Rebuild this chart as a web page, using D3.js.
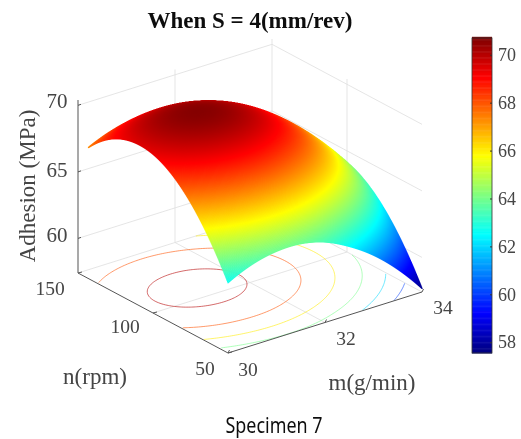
<!DOCTYPE html>
<html>
<head>
<meta charset="utf-8">
<script src="https://cdn.jsdelivr.net/npm/d3@7"></script>
<style>
body { margin: 0; background: #fff; }
svg, canvas { position: absolute; left: 0; top: 0; }
text { font-family: "Liberation Serif", serif; fill: #444; }
</style>
</head>
<body>
<script>
// values
var mValues = [30, 30.5, 31, 31.5, 32, 32.5, 33, 33.5, 34];
var nValues = [50, 65.5, 81, 96.5, 112, 127.5, 143, 158.5];
// adhesion per n row, left to right along m
var adhesion50  = [62.68, 63.50, 63.90, 63.90, 63.45, 62.55, 61.32, 59.69, 57.67];
var adhesion65  = [65.78, 66.54, 66.90, 66.87, 66.44, 65.61, 64.37, 62.73, 60.70];
var adhesion81  = [67.95, 68.70, 69.05, 69.02, 68.57, 67.74, 66.49, 64.84, 62.81];
var adhesion96  = [69.19, 69.93, 70.28, 70.23, 69.78, 68.94, 67.68, 66.03, 63.98];
var adhesion112 = [69.47, 70.21, 70.55, 70.50, 70.04, 69.18, 67.92, 66.26, 64.21];
var adhesion127 = [68.83, 69.56, 69.89, 69.83, 69.36, 68.51, 67.24, 65.57, 63.51];
var adhesion143 = [67.25, 67.97, 68.30, 68.23, 67.75, 66.88, 65.61, 63.93, 61.86];
var adhesion158 = [64.73, 65.44, 65.76, 65.68, 65.20, 64.32, 63.04, 61.35, 59.28]; // only shapes the floor contours
var adhesionRows = [adhesion50, adhesion65, adhesion81, adhesion96, adhesion112, adhesion127, adhesion143, adhesion158];

var contourLevels = [60, 62, 64, 66, 68, 70];
var zTicks = [60, 65, 70];
var mTicks = [30, 32, 34];
var nTicks = [50, 100, 150];
var barTicks = [58, 60, 62, 64, 66, 68, 70];

var width = 521, height = 439;
var svg = d3.select("body").append("svg")
    .attr("width", width)
    .attr("height", height);

svg.append("filter").attr("id", "soft")
    .append("feGaussianBlur").attr("stdDeviation", 0.35);
var root = svg.append("g").attr("filter", "url(#soft)");

// oblique projection of the 3d box, front corner is m=30, n=50
var mToX = d3.scaleLinear().domain([30, 34]).range([228, 422]);
var mToY = d3.scaleLinear().domain([30, 34]).range([353, 292]);
var nToX = d3.scaleLinear().domain([50, 150]).range([0, -150]);
var nToY = d3.scaleLinear().domain([50, 150]).range([0, -80]);
var zToH = d3.scaleLinear().domain([57.4, 70.4]).range([0, 173]);

function px(m, n) { return mToX(m) + nToX(n); }
function py(m, n, z) { return mToY(m) + nToY(n) - (z === undefined ? 0 : zToH(z)); }

var color = d3.scaleLinear()
    .domain([0, 0.125, 0.375, 0.625, 0.875, 1].map(d3.scaleLinear().range([57.55, 70.7])))
    .range(["#00007f", "#0000ff", "#00ffff", "#ffff00", "#ff0000", "#7f0000"])
    .clamp(true);

/* Grid lines on the two back walls and on the floor */
var grid = root.append("g")
    .attr("stroke", "#dedede")
    .attr("stroke-width", 0.8)
    .attr("fill", "none");

function seg(g, x1, y1, x2, y2) {
    g.append("line").attr("x1", x1).attr("y1", y1).attr("x2", x2).attr("y2", y2);
}

zTicks.forEach(function(z) {
    seg(grid, px(30, 150), py(30, 150, z), px(34, 150), py(34, 150, z));
    seg(grid, px(34, 150), py(34, 150, z), px(34, 50), py(34, 50, z));
});
seg(grid, px(34, 150), py(34, 150, 57.4), px(34, 150), py(34, 150, 70.4));
seg(grid, px(32, 150), py(32, 150, 57.4), px(32, 150), py(32, 150, 70.4));
seg(grid, px(34, 100), py(34, 100, 57.4), px(34, 100), py(34, 100, 70.4));
seg(grid, px(32, 50), py(32, 50), px(32, 150), py(32, 150));
seg(grid, px(30, 100), py(30, 100), px(34, 100), py(34, 100));
seg(grid, px(30, 150), py(30, 150), px(34, 150), py(34, 150));
seg(grid, px(34, 50), py(34, 50), px(34, 150), py(34, 150));

/* Catmull-Rom resampling so the coarse table draws as a smooth sheet */
function resample(arr, k) {
    var out = [], last = arr.length - 1;
    function at(i) {
        if (i < 0) return 3 * arr[0] - 3 * arr[1] + arr[2];
        if (i > last) return 3 * arr[last] - 3 * arr[last - 1] + arr[last - 2];
        return arr[i];
    }
    for (var i = 0; i < last; i++) {
        for (var s = 0; s < k; s++) {
            var t = s / k,
                a = at(i - 1), b = at(i), c = at(i + 1), d = at(i + 2);
            out.push(0.5 * (2 * b + (c - a) * t + (2 * a - 5 * b + 4 * c - d) * t * t + (3 * b - a - 3 * c + d) * t * t * t));
        }
    }
    out.push(arr[last]);
    return out;
}

function fineTable(k) {
    var rows = adhesionRows.map(function(r) { return resample(r, k); });
    return {
        m: resample(mValues, k),
        n: resample(nValues, k),
        // z[m index][n index]
        z: d3.range(rows[0].length).map(function(i) {
            return resample(rows.map(function(r) { return r[i]; }), k);
        })
    };
}

/* Floor contours */
var lo = fineTable(14);
var w = lo.m.length, h = lo.n.length;
var flat = [];
for (var j = 0; j < h; j++) {
    for (var i = 0; i < w; i++) flat.push(lo.z[i][j]);
}
var contours = d3.contours().size([w, h]).thresholds(contourLevels)(flat);
var gridM = d3.scaleLinear().domain([0.5, w - 0.5]).range([30, 34]);
var gridN = d3.scaleLinear().domain([0.5, h - 0.5]).range([50, 158.5]);

var contourLine = d3.line()
    .defined(function(p) {
        return p[0] > 0.6 && p[0] < w - 0.6 && p[1] > 0.6 && gridN(p[1]) <= 150;
    })
    .x(function(p) { return px(gridM(p[0]), gridN(p[1])); })
    .y(function(p) { return py(gridM(p[0]), gridN(p[1])); });

contours.forEach(function(c) {
    c.coordinates.forEach(function(poly) {
        poly.forEach(function(ring) {
            root.append("path")
                .attr("d", contourLine(ring))
                .attr("fill", "none")
                .attr("stroke", color(c.value))
                .attr("stroke-opacity", 0.65)
                .attr("stroke-width", 0.9);
        });
    });
});

/* Box axes */
var axes = root.append("g").attr("stroke", "#555").attr("stroke-width", 1).attr("fill", "none");
seg(axes, px(30, 150), py(30, 150), px(30, 150), py(30, 150, 70.4));
seg(axes, px(30, 150), py(30, 150), px(30, 50), py(30, 50));
seg(axes, px(30, 50), py(30, 50), px(34, 50), py(34, 50));
zTicks.forEach(function(z) { seg(axes, px(30, 150), py(30, 150, z), px(30, 150) + 3, py(30, 150, z) - 1); });
mTicks.forEach(function(m) { seg(axes, px(m, 50), py(m, 50), px(m, 50) + 1.5, py(m, 50) - 3); });
nTicks.forEach(function(n) { seg(axes, px(30, n), py(30, n), px(30, n) + 4, py(30, n) - 1); });

/* Surface on its own layer at double density, far corner first, n stops at 143 */
var scale = 2;
var canvas = d3.select("body").append("canvas")
    .attr("width", width * scale)
    .attr("height", height * scale)
    .style("width", width + "px")
    .style("height", height + "px")
    .style("filter", "blur(0.35px)");
var ctx = canvas.node().getContext("2d");
ctx.scale(scale, scale);

var hi = fineTable(50);
var lastRow = d3.bisectLeft(hi.n, 143);
for (var a = hi.m.length - 1; a >= 0; a--) {
    for (var b = lastRow; b >= 0; b--) {
        var zv = hi.z[a][b];
        ctx.fillStyle = color(zv);
        ctx.fillRect(px(hi.m[a], hi.n[b]) - 0.6, py(hi.m[a], hi.n[b], zv) - 0.6, 1.2, 1.2);
    }
}

/* Colour bar */
var barY = d3.scaleLinear().domain([57.55, 70.7]).range([353, 38]);
var barBands = d3.range(57.55, 70.7, 0.05);
var bar = root.append("g");
bar.selectAll("rect").data(barBands).enter().append("rect")
    .attr("x", 472).attr("width", 20)
    .attr("y", function(d) { return barY(d + 0.05); })
    .attr("height", function(d) { return barY(d) - barY(d + 0.05) + 0.5; })
    .attr("fill", function(d) { return color(d); });
bar.append("rect")
    .attr("x", 472).attr("y", 38).attr("width", 20).attr("height", 315)
    .attr("fill", "none").attr("stroke", "#333").attr("stroke-width", 0.8);

var barAxis = root.append("g")
    .attr("transform", "translate(492,0)")
    .call(d3.axisRight(barY).tickValues(barTicks).tickSize(-2).tickPadding(6));
barAxis.select(".domain").remove();
barAxis.selectAll("line").attr("stroke", "#333");
barAxis.selectAll("text").attr("font-size", 18).attr("font-family", "Liberation Serif").attr("fill", "#444");

/* Labels */
function label(x, y, str, size, rot) {
    var t = root.append("text")
        .attr("text-anchor", "middle")
        .attr("dominant-baseline", "middle")
        .attr("font-size", size)
        .text(str);
    t.attr("transform", "translate(" + x + "," + y + ")" + (rot ? " rotate(" + rot + ")" : ""));
    return t;
}

label(57, 103, zTicks[2], 21);
label(57, 172, zTicks[1], 21);
label(57, 237, zTicks[0], 21);
label(50, 291, nTicks[2], 19.5);
label(125, 329, nTicks[1], 19.5);
label(205, 371, nTicks[0], 19.5);
label(248, 372, mTicks[0], 19.5);
label(346, 341, mTicks[1], 19.5);
label(443, 310, mTicks[2], 19.5);
label(95, 379, "n(rpm)", 23);
label(372, 385, "m(g/min)", 23);
label(30, 186, "Adhesion (MPa)", 23, -90);
label(250, 23, "When S = 4(mm/rev)", 23).attr("font-weight", "bold").style("fill", "#111");
label(274, 427, "Specimen 7", 21)
    .style("font-family", "'Noto Sans', sans-serif")
    .style("fill", "#111")
    .attr("textLength", 97)
    .attr("lengthAdjust", "spacingAndGlyphs");
</script>
</body>
</html>
